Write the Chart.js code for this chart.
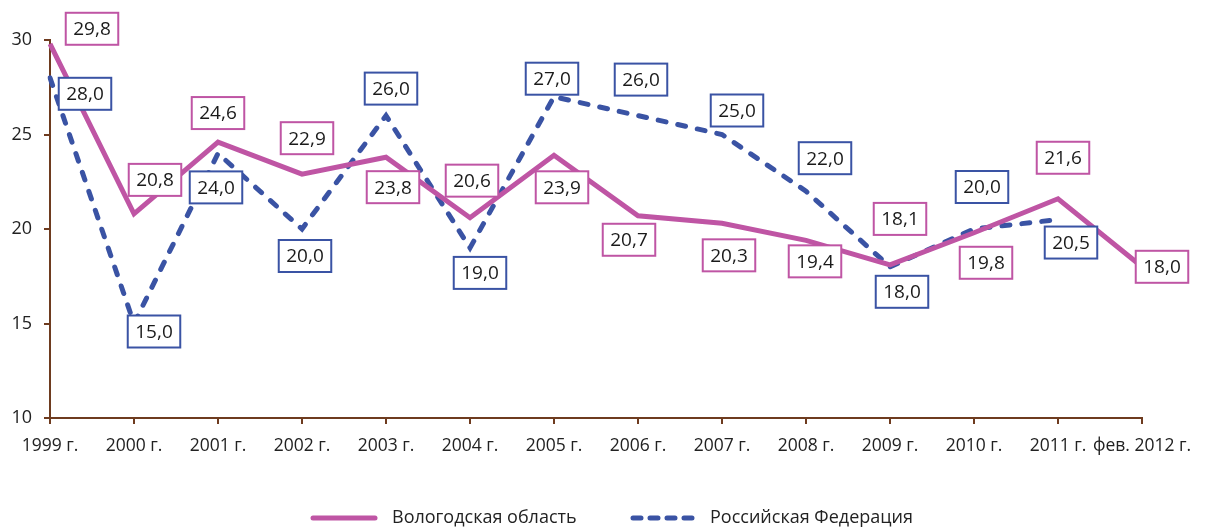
<!DOCTYPE html>
<html>
<head>
<meta charset="utf-8">
<script src="https://cdn.jsdelivr.net/npm/chart.js@4.4.0/dist/chart.umd.min.js"></script>
<style>
  html, body { margin: 0; padding: 0; background: #fff; }
  #wrap { width: 1210px; height: 529px; }
</style>
</head>
<body>
<div id="wrap"><canvas id="chart"></canvas></div>
<script>
var years = ["1999 г.", "2000 г.", "2001 г.", "2002 г.", "2003 г.", "2004 г.", "2005 г.",
             "2006 г.", "2007 г.", "2008 г.", "2009 г.", "2010 г.", "2011 г.", "фев. 2012 г."];
var vologda = [29.8, 20.8, 24.6, 22.9, 23.8, 20.6, 23.9, 20.7, 20.3, 19.4, 18.1, 19.8, 21.6, 18.0];
var russia  = [28.0, 15.0, 24.0, 20.0, 26.0, 19.0, 27.0, 26.0, 25.0, 22.0, 18.0, 20.0, 20.5, null];
var yTicks = [10, 15, 20, 25, 30];

// where each value box sits relative to its point (px)
var vologdaLabelPos = [[42,-15],[21,-34],[0,-29],[5,-36],[7,30],[2,-37],[8,32],[-9,24],[7,32],[9,21],[10,-46],[12,30],[5,-41],[20,0]];
var russiaLabelPos  = [[35,16],[20,8],[-2,34],[3,27],[5,-27],[10,25],[-2,-18],[3,-36],[15,-24],[19,-33],[12,25],[8,-42],[13,23],null];

var MAGENTA = "#BF55A4";
var NAVY = "#3A53A4";
var AXIS = "#6E3B1F";
var FONT = "'Open Sans', 'Noto Sans', sans-serif";

var valueBoxes = {
  id: "valueBoxes",
  afterDatasetsDraw: function(chart) {
    var ctx = chart.ctx;
    ctx.save();
    ctx.font = "19px " + FONT;
    ctx.textAlign = "center";
    ctx.textBaseline = "middle";
    chart.data.datasets.forEach(function(ds, di) {
      var meta = chart.getDatasetMeta(di);
      meta.data.forEach(function(pt, i) {
        var v = ds.data[i];
        if (v === null) return;
        var off = ds.labelPos[i];
        var txt = v.toFixed(1).replace(".", ",");
        var cx = pt.x + off[0], cy = pt.y + off[1];
        var w = ctx.measureText(txt).width + 15, h = 32;
        ctx.fillStyle = "#fff";
        ctx.fillRect(cx - w / 2, cy - h / 2, w, h);
        ctx.lineWidth = 2;
        ctx.strokeStyle = ds.borderColor;
        ctx.strokeRect(cx - w / 2, cy - h / 2, w, h);
        ctx.fillStyle = "#1a1a1a";
        ctx.fillText(txt, cx, cy + 1);
      });
    });
    ctx.restore();
  }
};

// legend drawn by hand so the dashed swatch keeps its dashes
var bottomLegend = {
  id: "bottomLegend",
  afterDraw: function(chart) {
    var ctx = chart.ctx;
    var items = [[310, 378, 392], [630, 695, 710]];
    ctx.save();
    ctx.font = "18px " + FONT;
    ctx.textBaseline = "middle";
    chart.data.datasets.forEach(function(ds, di) {
      var p = items[di], y = 518;
      ctx.beginPath();
      ctx.strokeStyle = ds.borderColor;
      ctx.lineWidth = 5;
      ctx.lineCap = "round";
      ctx.setLineDash(ds.borderDash ? [8, 9] : []);
      ctx.moveTo(p[0] + 3, y);
      ctx.lineTo(p[1] - 3, y);
      ctx.stroke();
      ctx.setLineDash([]);
      ctx.fillStyle = "#222";
      ctx.fillText(ds.label, p[2], y);
    });
    ctx.restore();
  }
};

new Chart(document.getElementById("chart"), {
  type: "line",
  data: {
    labels: years,
    datasets: [
      {
        label: "Вологодская область",
        data: vologda,
        labelPos: vologdaLabelPos,
        borderColor: MAGENTA,
        backgroundColor: MAGENTA,
        borderWidth: 5,
        pointRadius: 0,
        tension: 0
      },
      {
        label: "Российская Федерация",
        data: russia,
        labelPos: russiaLabelPos,
        borderColor: NAVY,
        backgroundColor: NAVY,
        borderWidth: 5,
        borderDash: [8, 12],
        borderCapStyle: "round",
        pointRadius: 0,
        tension: 0
      }
    ]
  },
  options: {
    responsive: true,
    maintainAspectRatio: false,
    animation: false,
    layout: { padding: { top: 40, right: 68, left: 0, bottom: 71 } },
    plugins: {
      tooltip: { enabled: false },
      legend: { display: false }
    },
    scales: {
      x: {
        offset: false,
        grid: { display: true, drawOnChartArea: false, drawTicks: true, tickLength: 6, color: AXIS, lineWidth: 2 },
        border: { color: AXIS, width: 2 },
        ticks: { color: "#222", font: { family: FONT, size: 17.5 }, padding: 12, maxRotation: 0, autoSkip: false },
        afterFit: function(s) { s.height = 40; }
      },
      y: {
        min: 10,
        max: 30,
        afterBuildTicks: function(s) { s.ticks = yTicks.map(function(v) { return { value: v }; }); },
        grid: { display: true, drawOnChartArea: false, drawTicks: true, tickLength: 6, color: AXIS, lineWidth: 2 },
        border: { color: AXIS, width: 2 },
        ticks: { color: "#222", font: { family: FONT, size: 18 }, padding: 12 },
        afterFit: function(s) { s.width = 50; }
      }
    }
  },
  plugins: [valueBoxes, bottomLegend]
});
</script>
</body>
</html>
